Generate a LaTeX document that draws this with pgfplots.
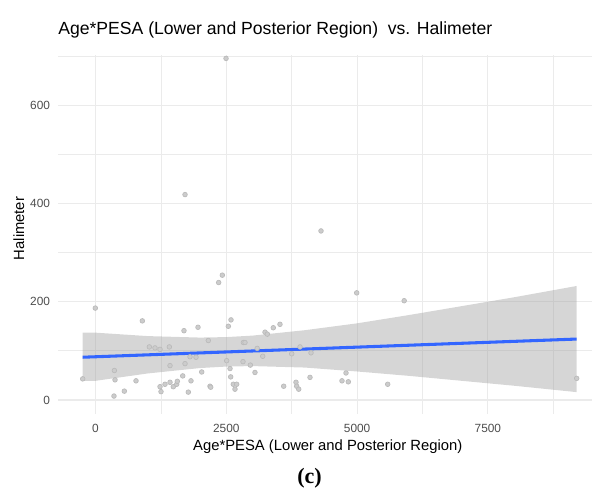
\documentclass[border=0pt]{standalone}
\usepackage{fontspec}
\setmainfont{Liberation Sans}
\newfontfamily\capserif{Liberation Serif}
\usepackage{pgfplots}
\pgfplotsset{compat=1.18}
\definecolor{gridc}{HTML}{EBEBEB}
\definecolor{tickc}{HTML}{4D4D4D}
\definecolor{smoothblue}{HTML}{3366FF}
\definecolor{ribbonc}{HTML}{999999}

\begin{document}
\begin{tikzpicture}
\useasboundingbox (0,0) rectangle (444pt,366pt);
\begin{axis}[
  at={(43.5pt,55.5pt)}, anchor=south west,
  scale only axis, width=400.5pt, height=269.25pt,
  xmin=-717, xmax=9490, ymin=-28.5, ymax=702,
  axis line style={draw=none}, tick style={draw=none},
  xtick={0,2500,5000,7500}, xticklabels={0,2500,5000,7500},
  ytick={0,200,400,600}, yticklabels={0,200,400,600},
  minor xtick={1250,3750,6250,8750}, minor ytick={100,300,500,700},
  grid=both,
  major grid style={gridc, line width=0.9pt},
  minor grid style={gridc, line width=0.6pt},
  /pgf/number format/assume math mode=true,
  tick label style={font=\fontsize{8.9}{10}\selectfont, text=tickc},
  xticklabel style={yshift=-4.5pt},
  yticklabel style={xshift=-2.5pt},
]
% observations
\addplot[only marks, mark=*, mark size=1.75pt,
  mark options={draw=black!27, fill=black!20, line width=0.5pt}] coordinates {
  (-245,43) (-4,187) (353,8) (360,60) (373,41) (551,18) (774,39) (895,161)
  (1029,108) (1137,106) (1233,103) (1411,108) (1233,27) (1252,17) (1328,32)
  (1424,36) (1424,70) (1487,27) (1552,32) (1564,38) (1667,49) (1691,141)
  (1711,418) (1711,74) (1774,16) (1806,88) (1825,39) (1921,87) (1959,148)
  (2030,57) (2156,121) (2188,28) (2202,26) (2354,239) (2424,254) (2495,695)
  (2507,80) (2539,150) (2571,64) (2584,47) (2590,163) (2634,32) (2666,22)
  (2698,32) (2819,78) (2826,117) (2857,117) (2959,71) (3048,56) (3090,105)
  (3196,89) (3240,138) (3284,134) (3398,147) (3526,154) (3597,28) (3750,94)
  (3832,36) (3845,28) (3884,22) (3909,108) (4100,46) (4119,96) (4310,344)
  (4711,39) (4788,55) (4832,37) (4992,218) (5585,32) (5900,202) (9197,44)
};
% confidence band
\addplot[draw=none, fill=ribbonc, fill opacity=0.4] coordinates {
  (-245,137) (0,137) (1000,130) (2000,127) (2500,128) (3000,131) (4000,142)
  (5000,156) (6000,173) (7000,191) (8000,209) (9197,232)
  (9197,16) (8000,29) (7000,39) (6000,49) (5000,58) (4000,66) (3000,69)
  (2500,68) (2000,65) (1000,54) (0,39) (-245,39)
} -- cycle;
% fitted line
\addplot[smoothblue, line width=2.3pt] coordinates {(-245,87) (9197,124)};
\end{axis}
\node[anchor=base west, font=\fontsize{13.2}{15}\selectfont, inner sep=0pt]
  at (43.5pt,340.3pt) {Age*PESA (Lower and Posterior Region)\ \ vs. Halimeter};
\node[anchor=base, font=\fontsize{11.1}{13}\selectfont, inner sep=0pt]
  at (245.8pt,27.75pt) {Age*PESA (Lower and Posterior Region)};
\node[anchor=base, rotate=90, font=\fontsize{11.1}{13}\selectfont, inner sep=0pt]
  at (18pt,194.6pt) {Halimeter};
\node[anchor=base, font=\capserif\bfseries\fontsize{16.5}{19}\selectfont, inner sep=0pt]
  at (232.1pt,3.6pt) {(c)};
\end{tikzpicture}
\end{document}
